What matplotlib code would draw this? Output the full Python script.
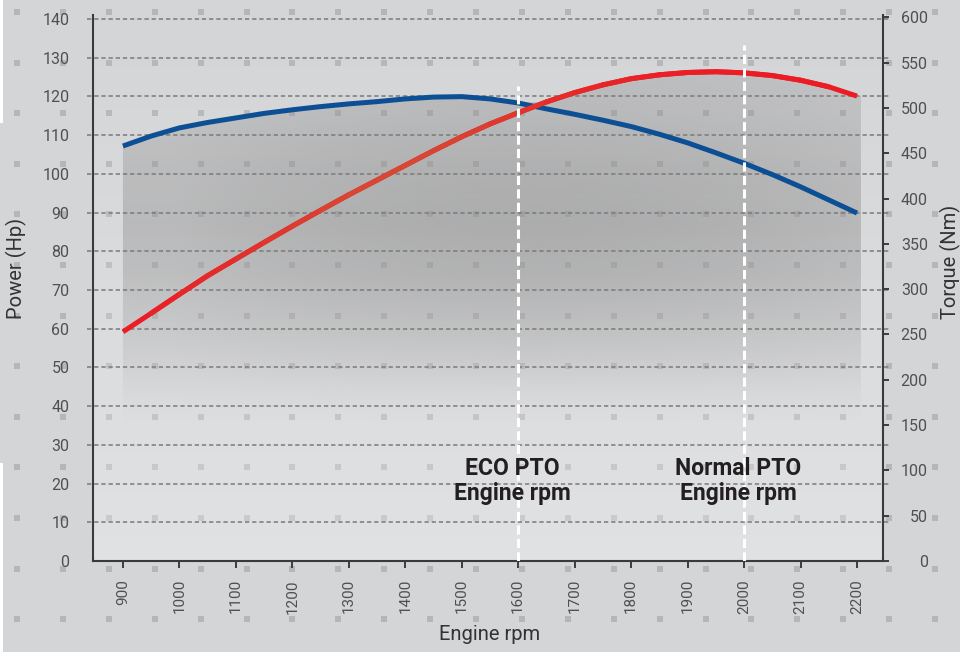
import numpy as np
import matplotlib
matplotlib.use('Agg')
import matplotlib.pyplot as plt
from matplotlib.collections import LineCollection
from matplotlib.patches import Polygon, Rectangle

# values (every 50 rpm)
rpm = [900, 950, 1000, 1050, 1100, 1150, 1200, 1250, 1300, 1350, 1400, 1450, 1500,
       1550, 1600, 1650, 1700, 1750, 1800, 1850, 1900, 1950, 2000, 2050, 2100, 2150, 2200]
power_hp = [59.2, 64.0, 68.9, 73.7, 78.0, 82.3, 86.5, 90.6, 94.6, 98.4, 102.2, 106.0, 109.6,
            112.9, 115.8, 118.6, 121.0, 123.0, 124.6, 125.6, 126.2, 126.4, 126.1, 125.4,
            124.2, 122.5, 120.1]
torque_nm = [458, 469, 478, 484, 489, 494, 498, 501.5, 504.5, 507, 510, 512, 512.5,
             510, 505.5, 499, 493, 486.5, 479.5, 471, 461.5, 450.5, 439, 426.5, 413, 398.5, 384]

pto_rpm = [1600, 2000]
pto_labels = ['ECO PTO\nEngine rpm', 'Normal PTO\nEngine rpm']
pto_top = [122.7, 133.3]  # where the white marker lines stop (Hp scale)

hp_ticks = list(range(0, 141, 10))
nm_ticks = list(range(0, 601, 50))
rpm_ticks = list(range(900, 2201, 100))

plt.rcParams['font.family'] = ['Roboto', 'DejaVu Sans']

W, H = 960, 652
fig = plt.figure(figsize=(W / 100, H / 100), dpi=100)
fig.patch.set_facecolor('#d4d5d7')

# background with the little square dots
bg = fig.add_axes([0, 0, 1, 1], zorder=0)
bg.set_xlim(0, W)
bg.set_ylim(H, 0)
bg.axis('off')
gx, gy = np.meshgrid(17 + 45.9 * np.arange(21), 12 + 50.6 * np.arange(13))
bg.scatter(gx.ravel(), gy.ravel(), marker='s', s=13, c='#b6b6b6', linewidths=0)
bg.add_patch(Rectangle((0, 0), 3, 123, color='white', lw=0))
bg.add_patch(Rectangle((0, 463), 3, H - 463, color='white', lw=0))

ax = fig.add_axes([93 / W, 1 - 561 / H, 790 / W, 546 / H], zorder=1)
ax.patch.set_alpha(0)
ax2 = ax.twinx()
ax2.patch.set_alpha(0)

# lighter plot area (fades towards the bottom)
ov = np.ones((256, 1, 4))
ov[:, 0, 3] = np.linspace(0.3, 0.0, 256)
ax.imshow(ov, extent=[0, 1, 0, 1], transform=ax.transAxes, origin='lower',
          aspect='auto', zorder=0.5, interpolation='bilinear')

# grey shaded area under the curves
fy = np.linspace(0, 1, 300)[:, None]
fx = np.linspace(0, 1, 300)[None, :]
ay = np.interp(fy, [0.25, 0.3, 0.35, 0.42, 0.52, 0.62, 0.72, 0.82, 0.9, 1.0],
               [0, 0.06, 0.18, 0.33, 0.5, 0.58, 0.52, 0.4, 0.33, 0.3])
dx = np.clip(((fx - 0.55) / 0.45) ** 2, 0, 1)
shade = np.zeros((300, 300, 4))
shade[..., :3] = 140 / 255
shade[..., 3] = ay * (1 - 0.3 * dx)
im = ax.imshow(shade, extent=[0, 1, 0, 1], transform=ax.transAxes, origin='lower',
               aspect='auto', zorder=1, interpolation='bilinear')

hp_top, nm_top = 141.05, 602.6
scale = hp_top / nm_top
env = np.maximum(power_hp, np.array(torque_nm) * scale)
verts = [(rpm[0], 0)] + list(zip(rpm, env)) + [(rpm[-1] + 7, env[-1]), (rpm[-1] + 7, 0)]
clip = Polygon(verts, closed=True, transform=ax.transData)
im.set_clip_path(clip)

# dashed grid, poking a bit past both spines
for v in hp_ticks[1:]:
    ax.plot([-0.0076, 1.0076], [v, v], transform=ax.get_yaxis_transform(),
            clip_on=False, color='#7a7a7a', lw=1.1, ls=(0, (2.8, 1.9)), zorder=2)

# torque (right scale) and power (left scale)
ax.plot(rpm, torque_nm, transform=ax2.transData, color='#0d4f94', lw=3.6,
        solid_capstyle='butt', zorder=3)

red = np.array([236, 28, 36]) / 255
tint = np.array([214, 72, 52]) / 255
pts = np.column_stack([rpm, power_hp])
segs = np.stack([pts[:-1], pts[1:]], axis=1)
mid = (pts[:-1, 0] + pts[1:, 0]) / 2
w = np.exp(-((mid - 1380) / 300) ** 2)[:, None]
seg_cols = red * (1 - w) + tint * w
ax.plot(rpm, power_hp, color=red, lw=3.6, solid_capstyle='butt', zorder=4)
ax.add_collection(LineCollection(segs[1:-1], colors=seg_cols[1:-1], linewidths=3.6,
                                 capstyle='round', zorder=4.1))

# PTO markers
for r, top, lab in zip(pto_rpm, pto_top, pto_labels):
    ax.plot([r, r], [0, top], color='white', lw=2.2, ls=(0, (3, 1.4)), zorder=5)
    ax.text(r - 10, 20.7, lab, ha='center', va='center', fontsize=16.5,
            fontweight='bold', color='#231f20', linespacing=1.15, zorder=6)

ax.set_xlim(847, 2246)
ax.set_ylim(0, hp_top)
ax2.set_ylim(0, nm_top)

tick_col = '#505050'
ax.set_xticks(rpm_ticks)
ax.set_xticklabels([str(t) for t in rpm_ticks], rotation=90, fontsize=11, color=tick_col)
ax.tick_params(axis='x', direction='out', length=5, width=1.4, color='#3c3c3c', pad=8)
ax.set_yticks(hp_ticks)
ax.set_yticklabels([str(t) for t in hp_ticks], fontsize=11.5, color=tick_col)
ax.tick_params(axis='y', length=0, pad=17)
ax2.set_yticks(nm_ticks)
ax2.set_yticklabels([str(t) for t in nm_ticks], fontsize=11.5, color=tick_col, ha='right')
ax2.tick_params(axis='y', direction='out', length=4.3, width=1.4, color='#3c3c3c', pad=28)

for s in ['top', 'right']:
    ax.spines[s].set_visible(False)
for s in ['left', 'bottom']:
    ax.spines[s].set_color('#3a3a3a')
    ax.spines[s].set_linewidth(1.5)
for s in ['top', 'left', 'bottom']:
    ax2.spines[s].set_visible(False)
ax2.spines['right'].set_color('#3a3a3a')
ax2.spines['right'].set_linewidth(1.5)

lab_col = '#333333'
fig.text(16 / W, 1 - 268 / H, 'Power (Hp)', rotation=90, ha='center', va='center',
         fontsize=14.5, color=lab_col)
fig.text(950 / W, 1 - 262 / H, 'Torque (Nm)', rotation=90, ha='center', va='center',
         fontsize=14.5, color=lab_col)
fig.text(490 / W, 1 - 634 / H, 'Engine rpm', ha='center', va='center',
         fontsize=14.5, color=lab_col)

fig.savefig('out.png', dpi=100, facecolor=fig.get_facecolor())
